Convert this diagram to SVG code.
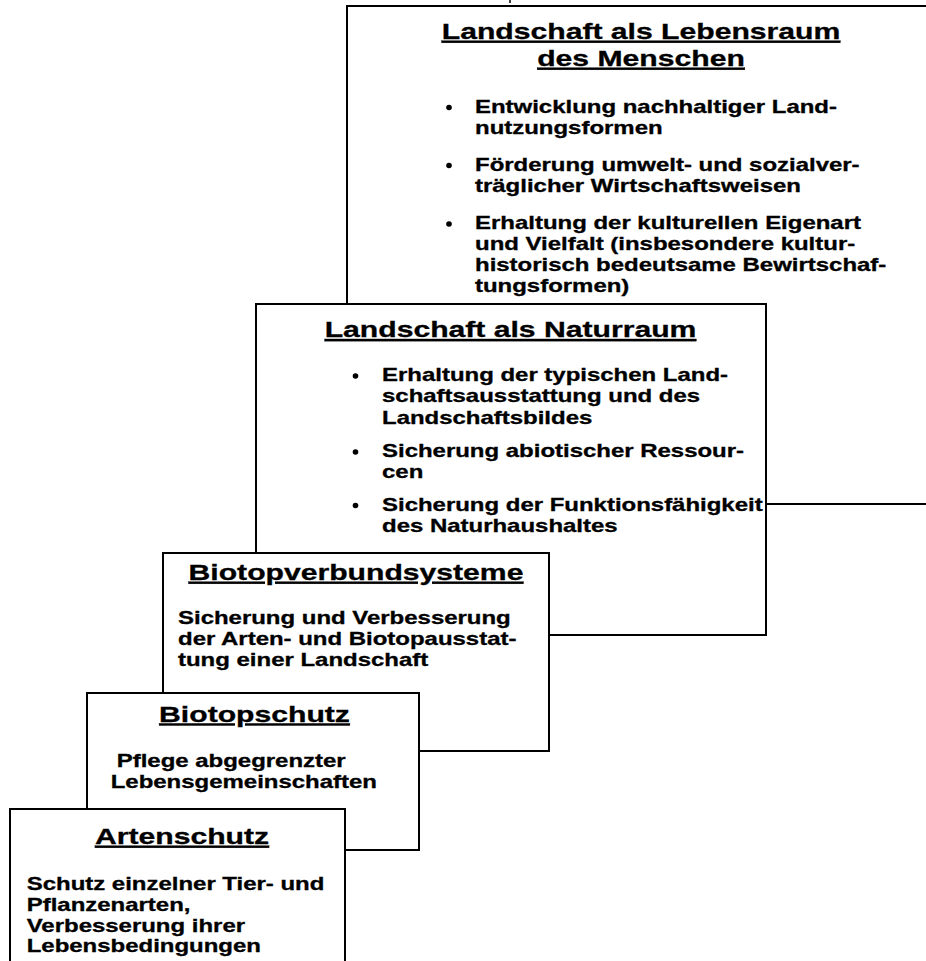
<svg xmlns="http://www.w3.org/2000/svg" width="926" height="961" viewBox="0 0 926 961">
<style>
.box{fill:#fff;stroke:#000;stroke-width:2}
.ti{font-family:"Liberation Sans",Arial,sans-serif;font-weight:bold;font-size:22px;fill:#000;stroke:#000;stroke-width:0.3;text-decoration:underline;text-anchor:middle}
.b{font-family:"Liberation Sans",Arial,sans-serif;font-weight:bold;font-size:17.5px;fill:#000;stroke:#000;stroke-width:0.3}
.dot{fill:#000}
</style>
<rect width="926" height="961" fill="#fff"/>
<line x1="510" y1="0" x2="510" y2="3" stroke="#000" stroke-width="1.5"/>
<g id="lebensraum">
<rect class="box" x="347" y="6" width="620" height="498"/>
<text class="ti" transform="translate(641 39) scale(1.37 1)">Landschaft als Lebensraum</text>
<text class="ti" transform="translate(641 66) scale(1.37 1)">des Menschen</text>
<circle class="dot" cx="449" cy="107.5" r="2.8"/>
<circle class="dot" cx="449" cy="165.5" r="2.8"/>
<circle class="dot" cx="449" cy="224" r="2.8"/>
<text class="b" transform="translate(475 112.5) scale(1.37 1)">Entwicklung nachhaltiger Land-</text>
<text class="b" transform="translate(475 133.5) scale(1.37 1)">nutzungsformen</text>
<text class="b" transform="translate(475 170.5) scale(1.37 1)">Förderung umwelt- und sozialver-</text>
<text class="b" transform="translate(475 191.5) scale(1.37 1)">träglicher Wirtschaftsweisen</text>
<text class="b" transform="translate(475 229) scale(1.37 1)">Erhaltung der kulturellen Eigenart</text>
<text class="b" transform="translate(475 250) scale(1.37 1)">und Vielfalt (insbesondere kultur-</text>
<text class="b" transform="translate(475 271) scale(1.37 1)">historisch bedeutsame Bewirtschaf-</text>
<text class="b" transform="translate(475 292) scale(1.37 1)">tungsformen)</text>
</g>
<g id="naturraum">
<rect class="box" x="256" y="304" width="510" height="331"/>
<text class="ti" transform="translate(510.5 337.3) scale(1.37 1)">Landschaft als Naturraum</text>
<circle class="dot" cx="355.5" cy="376" r="2.8"/>
<circle class="dot" cx="355.5" cy="452" r="2.8"/>
<circle class="dot" cx="355.5" cy="505.5" r="2.8"/>
<text class="b" transform="translate(382 381) scale(1.37 1)">Erhaltung der typischen Land-</text>
<text class="b" transform="translate(382 402) scale(1.37 1)">schaftsausstattung und des</text>
<text class="b" transform="translate(382 423.5) scale(1.37 1)">Landschaftsbildes</text>
<text class="b" transform="translate(382 457) scale(1.37 1)">Sicherung abiotischer Ressour-</text>
<text class="b" transform="translate(382 478) scale(1.37 1)">cen</text>
<text class="b" transform="translate(382 510.5) scale(1.37 1)">Sicherung der Funktionsfähigkeit</text>
<text class="b" transform="translate(382 532) scale(1.37 1)">des Naturhaushaltes</text>
</g>
<g id="biotopverbund">
<rect class="box" x="163" y="553" width="386" height="198"/>
<text class="ti" transform="translate(356 580) scale(1.37 1)">Biotopverbundsysteme</text>
<text class="b" transform="translate(178 624) scale(1.37 1)">Sicherung und Verbesserung</text>
<text class="b" transform="translate(178 645) scale(1.37 1)">der Arten- und Biotopausstat-</text>
<text class="b" transform="translate(178 666) scale(1.37 1)">tung einer Landschaft</text>
</g>
<g id="biotopschutz">
<rect class="box" x="87" y="693" width="332" height="157"/>
<text class="ti" transform="translate(254.5 721.7) scale(1.37 1)">Biotopschutz</text>
<text class="b" transform="translate(116.7 767) scale(1.37 1)">Pflege abgegrenzter</text>
<text class="b" transform="translate(110.7 787.5) scale(1.37 1)">Lebensgemeinschaften</text>
</g>
<g id="artenschutz">
<rect class="box" x="10" y="809" width="335" height="200"/>
<text class="ti" transform="translate(182 844) scale(1.37 1)">Artenschutz</text>
<text class="b" transform="translate(26.7 890) scale(1.37 1)">Schutz einzelner Tier- und</text>
<text class="b" transform="translate(26.7 910.5) scale(1.37 1)">Pflanzenarten,</text>
<text class="b" transform="translate(26.7 931.5) scale(1.37 1)">Verbesserung ihrer</text>
<text class="b" transform="translate(26.7 952) scale(1.37 1)">Lebensbedingungen</text>
</g>
<g id="connectors"></g>
</svg>
